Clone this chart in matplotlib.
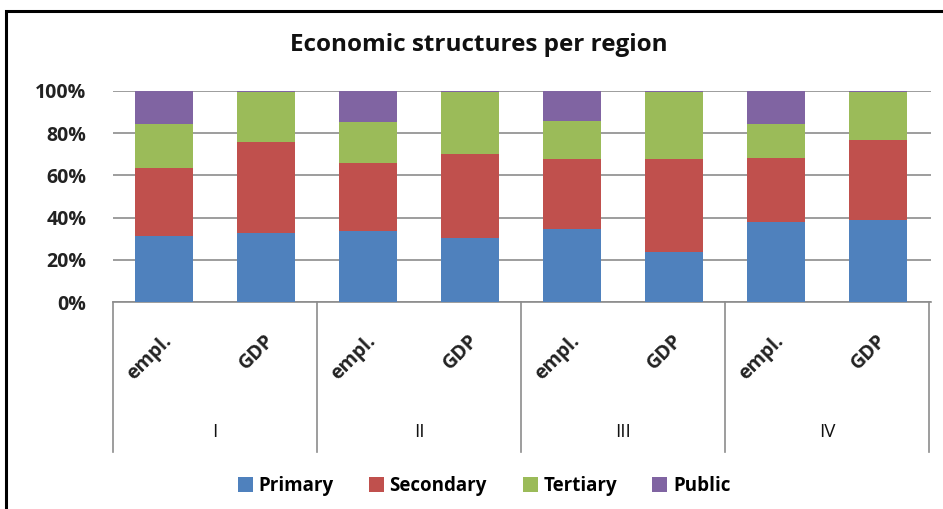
import numpy as np
import matplotlib
matplotlib.use("Agg")
import matplotlib.pyplot as plt
from matplotlib.patches import Rectangle
import matplotlib.transforms as mtransforms

plt.rcParams["font.family"] = ["Open Sans", "DejaVu Sans"]

# ── Data (percent of total) ────────────────────────────────────────────────
regions   = ["I", "II", "III", "IV"]
measures  = ["empl.", "GDP"]
primary   = [31.2, 32.8, 33.7, 30.4, 34.5, 23.6, 38.0, 38.8]
secondary = [32.1, 43.1, 32.1, 39.7, 33.1, 44.0, 30.4, 37.9]
tertiary  = [21.0, 23.8, 19.3, 29.6, 18.3, 32.1, 15.9, 23.0]
public    = [15.7, 0.3, 14.9, 0.3, 14.1, 0.3, 15.7, 0.3]

series = [("Primary", primary, "#4F81BD"),
          ("Secondary", secondary, "#C0504D"),
          ("Tertiary", tertiary, "#9BBB59"),
          ("Public", public, "#8064A2")]

W, H = 943, 509
fig = plt.figure(figsize=(W / 100, H / 100), dpi=100)
fig.patch.set_facecolor("white")

# outer chart frame (runs off the right/bottom of the picture)
fig.patches.append(Rectangle((6 / W, -0.05), 1.2, (H - 11) / H + 0.05,
                             transform=fig.transFigure, fill=False,
                             edgecolor="black", linewidth=2.2))

ax = fig.add_axes([113 / W, (H - 302) / H, 818 / W, 211 / H])
x = np.arange(len(primary))
bottom = np.zeros(len(primary))
for name, vals, col in series:
    ax.bar(x, vals, width=0.57, bottom=bottom, color=col, label=name, zorder=3)
    bottom += np.array(vals)

ax.set_xlim(-0.5, len(primary) - 0.5 + 0.02)
ax.set_ylim(0, 100)
ax.set_yticks(np.arange(0, 101, 20))
ax.set_yticklabels([f"{v}%" for v in range(0, 101, 20)], fontsize=14,
                   fontweight="bold", color="#222222")
ax.tick_params(axis="y", length=0, pad=19)
ax.tick_params(axis="x", length=0, labelbottom=False)
ax.yaxis.grid(True, color="#8c8c8c", linewidth=1.2, zorder=0)
for s in ["top", "right", "left"]:
    ax.spines[s].set_visible(False)
ax.spines["bottom"].set_color("#8c8c8c")
ax.spines["bottom"].set_linewidth(1.2)

trans = mtransforms.blended_transform_factory(ax.transData, ax.transAxes)

# category labels (rotated) and region labels
for i in x:
    ax.text(i + 0.05, -0.17, measures[i % 2], transform=trans, rotation=45,
            rotation_mode="anchor", ha="right", va="center",
            fontsize=14, fontweight="bold", color="#222222")
for g, reg in enumerate(regions):
    ax.text(2 * g + 0.5, -0.615, reg, transform=trans, ha="center",
            va="center", fontsize=13.5, color="#111111")

# group separators
for b in np.arange(-0.5, len(primary), 2):
    ax.plot([b, b], [0, -0.71], transform=trans, color="#8c8c8c",
            linewidth=1.2, clip_on=False)

fig.text(479 / W, 1 - 45 / H, "Economic structures per region",
         ha="center", va="center", fontsize=17.5, fontweight="bold",
         color="#111111")

fig.legend(loc="center", bbox_to_anchor=(484 / W, 1 - 486 / H), ncol=4,
           frameon=False, prop={"weight": "bold", "size": 13.5},
           handlelength=0.8, handleheight=0.8, handletextpad=0.3,
           columnspacing=1.9)

plt.savefig("out.png", dpi=100)
plt.close()
